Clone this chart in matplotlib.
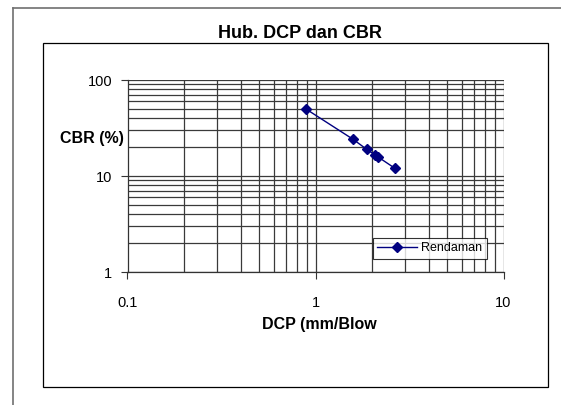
import matplotlib
matplotlib.use("Agg")
import matplotlib.pyplot as plt
from matplotlib.lines import Line2D
from matplotlib.patches import Rectangle
from matplotlib.ticker import LogLocator, FixedLocator, NullFormatter

plt.rcParams['font.family'] = ['Liberation Sans', 'DejaVu Sans']

# Data
dcp = [0.885, 1.585, 1.87, 2.07, 2.16, 2.65]
cbr = [50.2, 24.1, 19.0, 16.6, 15.7, 12.0]
series_label = "Rendaman"
title = "Hub. DCP dan CBR"
xlabel = "DCP (mm/Blow"
ylabel = "CBR (%)"
xticks = [0.1, 1, 10]
xticklabels = ["0.1", "1", "10"]
yticks = [1, 10, 100]
yticklabels = ["1", "10", "100"]

W, H = 561, 405
fig = plt.figure(figsize=(W / 100, H / 100), dpi=100)
fig.patch.set_facecolor('white')

# outer frame (left and top only visible)
fig.add_artist(Line2D([13 / W, 13 / W], [0, 1 - 8 / H], transform=fig.transFigure,
                      color='#707070', lw=1.2))
fig.add_artist(Line2D([13 / W, 1], [1 - 8 / H, 1 - 8 / H], transform=fig.transFigure,
                      color='#707070', lw=1.2))
# chart area frame
fig.add_artist(Rectangle((43 / W, 1 - 387 / H), (548 - 43) / W, (387 - 43) / H,
                         transform=fig.transFigure, fill=False, edgecolor='black', lw=0.9))

ax = fig.add_axes([127.5 / W, 1 - 272 / H, (503.5 - 127.5) / W, (272 - 80) / H])
ax.set_xscale('log')
ax.set_yscale('log')
ax.set_xlim(0.1, 10)
ax.set_ylim(1, 100)

ax.xaxis.set_major_locator(FixedLocator(xticks))
ax.set_xticklabels(xticklabels)
ax.yaxis.set_major_locator(FixedLocator(yticks))
ax.set_yticklabels(yticklabels)
ax.xaxis.set_minor_locator(LogLocator(base=10, subs=range(2, 10)))
ax.yaxis.set_minor_locator(LogLocator(base=10, subs=range(2, 10)))
ax.xaxis.set_minor_formatter(NullFormatter())
ax.yaxis.set_minor_formatter(NullFormatter())
ax.tick_params(which='minor', length=0)
ax.tick_params(which='major', length=5, width=0.8, color='#333333', labelsize=10.5,
               direction='out')
ax.tick_params(axis='x', pad=12)
ax.tick_params(axis='y', pad=6)

ax.grid(True, which='both', color='#3a3a3a', lw=0.9)
ax.set_axisbelow(True)
for s in ['top', 'right']:
    ax.spines[s].set_visible(False)
for s in ['left', 'bottom']:
    ax.spines[s].set_color('#333333')
    ax.spines[s].set_linewidth(0.9)

ax.plot(dcp, cbr, color='#000080', lw=1.0, marker='D', markersize=5.5,
        markerfacecolor='#000080', markeredgecolor='#000080', label=series_label,
        zorder=5)

leg = fig.legend(loc='upper left', bbox_to_anchor=(373 / W, 1 - 238 / H),
                 bbox_transform=fig.transFigure, fontsize=9, frameon=True,
                 fancybox=False, borderpad=0.35, handlelength=3.2, handletextpad=0.3,
                 borderaxespad=0)
leg.get_frame().set_edgecolor('black')
leg.get_frame().set_linewidth(0.8)

fig.text(300 / W, 1 - 33 / H, title, ha='center', va='center', fontsize=13,
         fontweight='bold')
fig.text(319.5 / W, 1 - 325 / H, xlabel, ha='center', va='center', fontsize=11.5,
         fontweight='bold')
fig.text(124 / W, 1 - 138 / H, ylabel, ha='right', va='center', fontsize=11.5,
         fontweight='bold')

fig.savefig('out.png', dpi=100)
